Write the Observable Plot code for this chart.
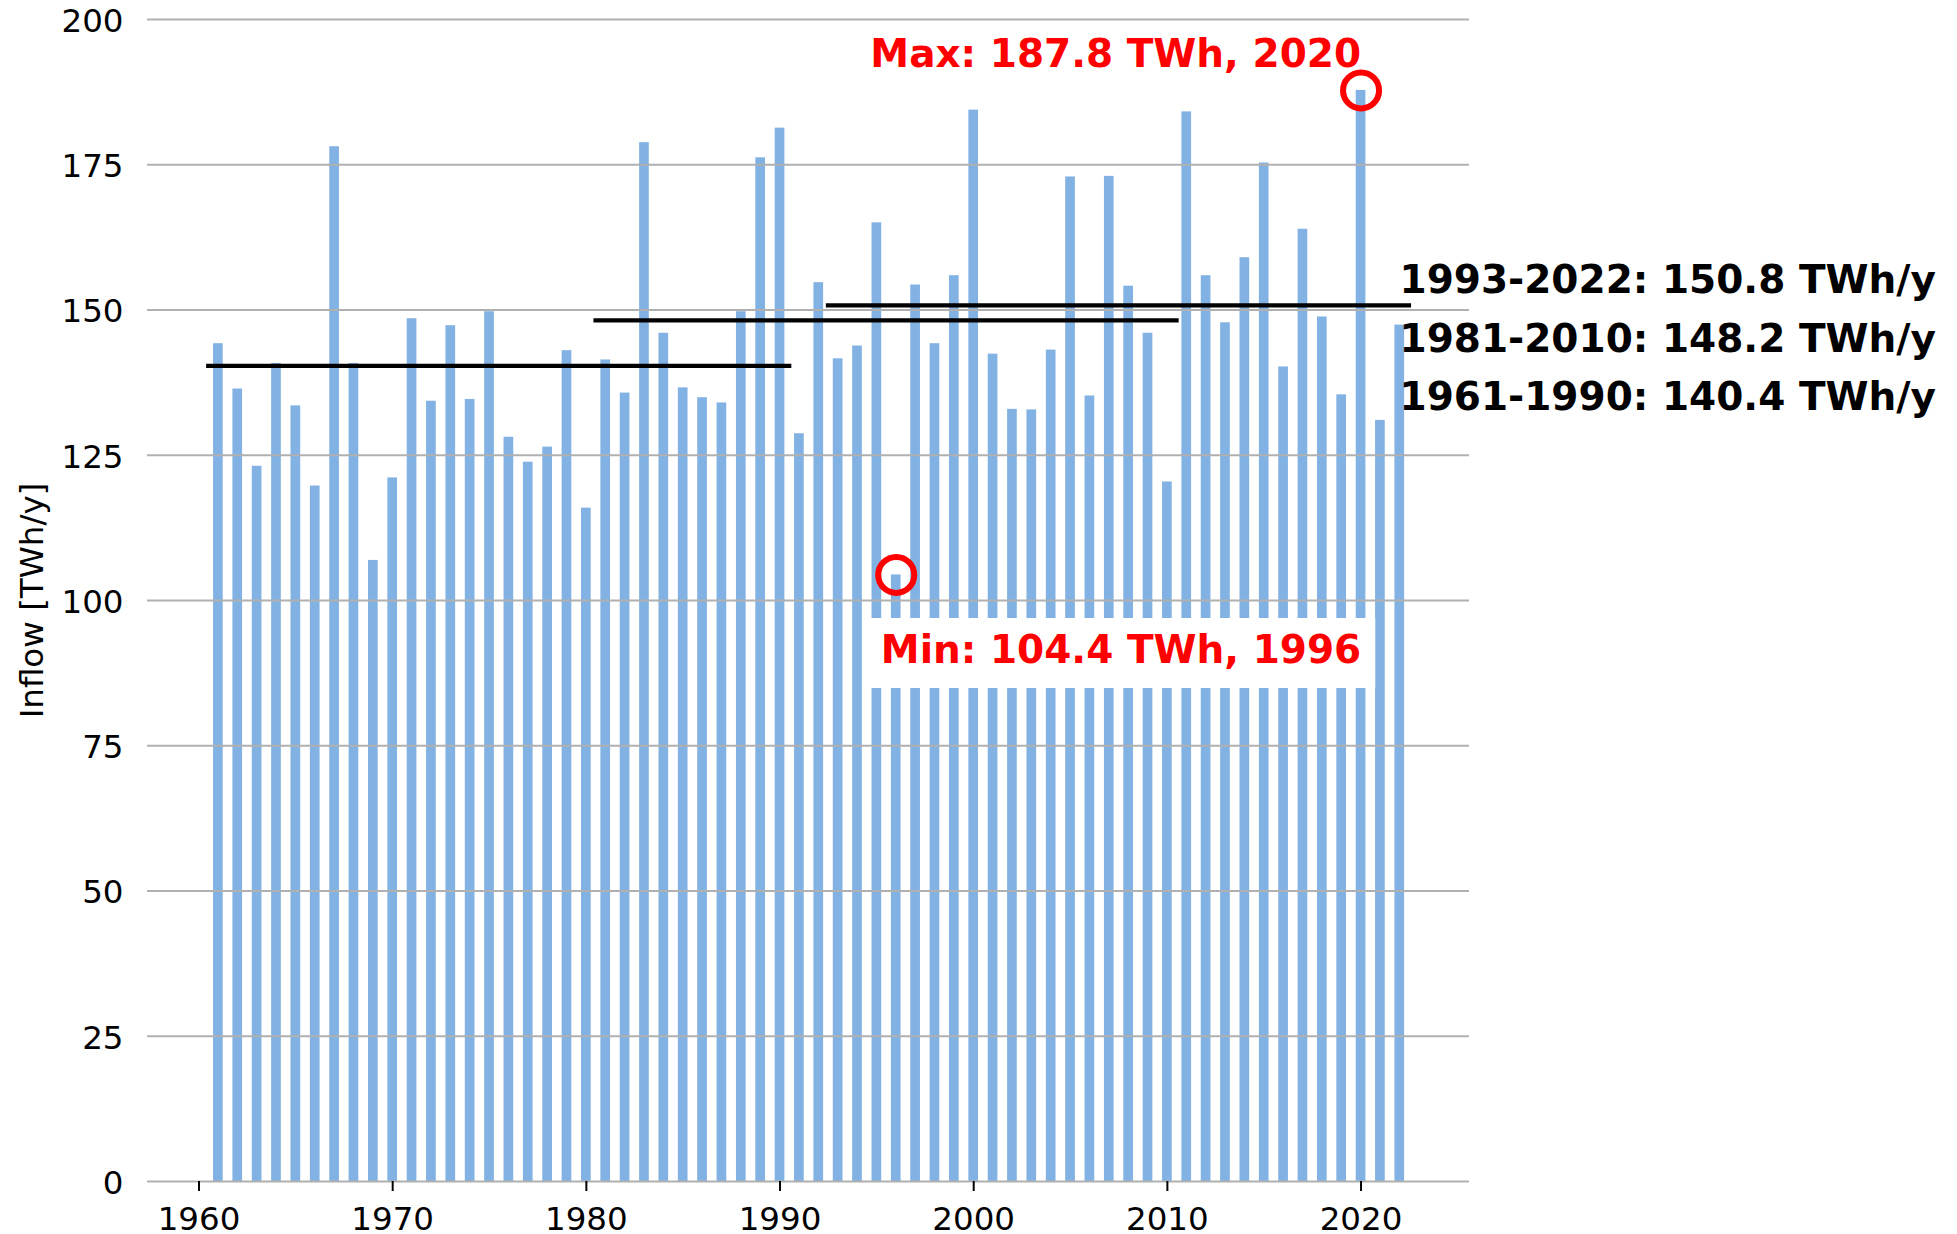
<!DOCTYPE html>
<html>
<head>
<meta charset="utf-8">
<script src="https://cdn.jsdelivr.net/npm/d3@7"></script>
<script src="https://cdn.jsdelivr.net/npm/@observablehq/plot@0.6"></script>
<style>
  html, body { margin: 0; padding: 0; background: #ffffff; }
  #chart svg { display: block; }
</style>
</head>
<body>
<div id="chart"></div>
<script>
// ---- data ----
const years = [
  1961, 1962, 1963, 1964, 1965, 1966, 1967, 1968, 1969, 1970,
  1971, 1972, 1973, 1974, 1975, 1976, 1977, 1978, 1979, 1980,
  1981, 1982, 1983, 1984, 1985, 1986, 1987, 1988, 1989, 1990,
  1991, 1992, 1993, 1994, 1995, 1996, 1997, 1998, 1999, 2000,
  2001, 2002, 2003, 2004, 2005, 2006, 2007, 2008, 2009, 2010,
  2011, 2012, 2013, 2014, 2015, 2016, 2017, 2018, 2019, 2020,
  2021, 2022
];
const inflow = [
  144.2, 136.4, 123.1, 140.8, 133.5, 119.7, 178.1, 140.8, 106.9, 121.1,
  148.5, 134.3, 147.3, 134.6, 149.7, 128.1, 123.8, 126.4, 143.0, 115.9,
  141.4, 135.7, 178.8, 146.0, 136.6, 134.9, 134.0, 149.7, 176.2, 181.3,
  128.7, 154.7, 141.6, 143.8, 165.0, 104.4, 154.3, 144.2, 155.9, 184.4,
  142.4, 132.9, 132.8, 143.1, 172.9, 135.2, 173.0, 154.1, 146.0, 120.4,
  184.1, 155.9, 147.8, 159.0, 175.3, 140.2, 163.9, 148.8, 135.4, 187.8,
  131.0, 147.4
];
const periodStart = [1993, 1981, 1961];
const periodEnd   = [2022, 2010, 1990];
const periodMean  = [150.8, 148.2, 140.4];
const yTicks = [0, 25, 50, 75, 100, 125, 150, 175, 200];
const xTicks = [1960, 1970, 1980, 1990, 2000, 2010, 2020];
const yLabel = "Inflow [TWh/y]";

// ---- tables built from the arrays ----
const data = years.map((year, i) => ({year, inflow: inflow[i]}));
const periods = periodStart.map((s, i) => ({
  start: s, end: periodEnd[i], mean: periodMean[i],
  label: `${s}-${periodEnd[i]}: ${periodMean[i].toFixed(1)} TWh/y`
}));
const maxRow = d3.greatest(data, d => d.inflow);
const minRow = d3.least(data, d => d.inflow);

// ---- layout / style constants ----
const BAR_COLOR = "#82b1e3";
const labelDy = [-25, 19, 32];
const BOX_W = 510, BOX_H = 70;
const boxSymbol = {
  draw(context) { context.rect(-BOX_W / 2, -BOX_H / 2, BOX_W, BOX_H); }
};
const bold = {fontWeight: "bold", fontSize: 39};

const chart = Plot.plot({
  width: 1957,
  height: 1234,
  marginLeft: 147,
  marginRight: 488,
  marginTop: 19,
  marginBottom: 53,
  style: {
    fontFamily: "'DejaVu Sans', sans-serif",
    fontSize: "32.5px",
    color: "black",
    background: "white",
    overflow: "visible"
  },
  x: {type: "linear", domain: [1957.34, 2025.6]},
  y: {domain: [0, 200]},
  marks: [
    Plot.rect(data, {
      x1: d => d.year - 0.25, x2: d => d.year + 0.25,
      y1: () => 0, y2: "inflow", fill: BAR_COLOR
    }),
    Plot.gridY(yTicks, {stroke: "#b0b0b0", strokeOpacity: 1, strokeWidth: 2.2}),
    Plot.axisY(yTicks, {tickSize: 0, tickPadding: 24, label: null, dy: 2}),
    Plot.axisX(xTicks, {
      tickSize: 10, tickPadding: 15, tickFormat: d => String(d),
      label: null, strokeWidth: 2
    }),
    Plot.text([yLabel], {
      text: d => d, frameAnchor: "left", textAnchor: "middle",
      lineAnchor: "middle", rotate: -90, dx: -115
    }),
    Plot.ruleY(periods, {
      y: "mean", x1: d => d.start - 0.5, x2: d => d.end + 0.5,
      stroke: "black", strokeWidth: 4.2, strokeLinecap: "square"
    }),
    ...periods.map((p, i) => Plot.text([p], {
      y: "mean", text: "label", frameAnchor: "right",
      textAnchor: "start", dx: -70, dy: labelDy[i], fill: "black", ...bold
    })),
    Plot.dot([minRow], {
      x: "year", y: "inflow", symbol: boxSymbol, fill: "white", stroke: "none",
      dx: 224, dy: 78
    }),
    Plot.dot([maxRow, minRow], {
      x: "year", y: "inflow", r: 18, fill: "none", stroke: "red", strokeWidth: 6
    }),
    Plot.text([maxRow], {
      x: "year", y: "inflow",
      text: d => `Max: ${d.inflow.toFixed(1)} TWh, ${d.year}`,
      textAnchor: "end", dx: 0, dy: -36, fill: "red", ...bold
    }),
    Plot.text([minRow], {
      x: "year", y: "inflow",
      text: d => `Min: ${d.inflow.toFixed(1)} TWh, ${d.year}`,
      textAnchor: "end", dx: 465, dy: 76, fill: "red", ...bold
    })
  ]
});
document.getElementById("chart").appendChild(chart);
</script>
</body>
</html>
